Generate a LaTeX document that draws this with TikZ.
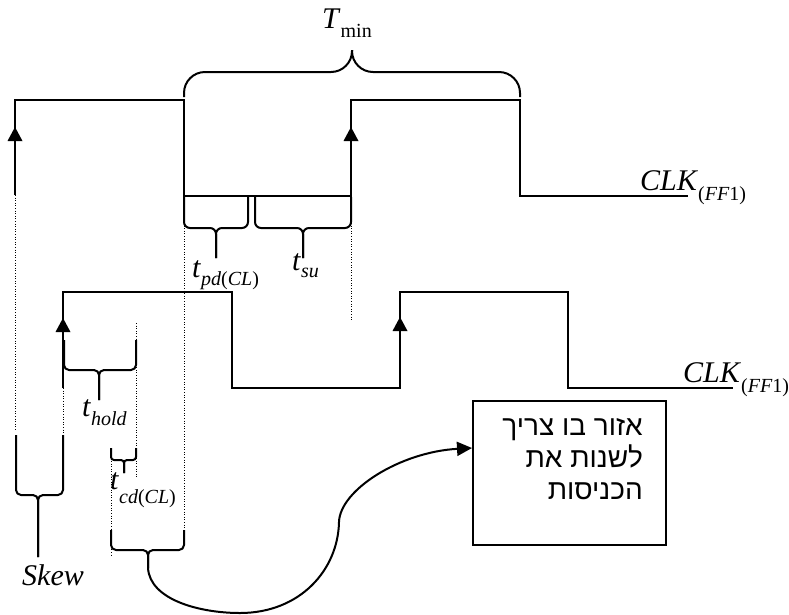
\documentclass[tikz,border=0pt]{standalone}
\usepackage{fontspec}
\setmainfont{Liberation Serif}
\newfontfamily\hebfont[Script=Hebrew]{Liberation Sans}
\TeXXeTstate=1
\usetikzlibrary{arrows.meta}
\newcommand\sbs[2][-8pt]{\raisebox{#1}{\fontsize{20}{24}\selectfont #2}}
% x1,x2,ytop,ymid,xtip,ytip,r
\newcommand\mybrace[7]{%
  \draw[br, rounded corners=#7] (#1,#3) -- (#1,#4) -- (#5,#4) -- (#5,#6);
  \draw[br, rounded corners=#7] (#2,#3) -- (#2,#4) -- (#5,#4) -- (#5,#6);}
\newcommand\uptri[2]{\fill (#1,#2) -- ({#1-7.5},{#2+14}) -- ({#1+7.5},{#2+14}) -- cycle;}
\begin{document}
\begin{tikzpicture}[x=1pt,y=-1pt,
  wave/.style={line width=2pt, line join=miter},
  br/.style={line width=2pt, line join=round},
  dots/.style={line width=1pt, dash pattern=on 1pt off 1.6pt},
  lbl/.style={inner sep=0pt, anchor=base west, font=\fontsize{30}{36}\selectfont},
  heb/.style={inner sep=0pt, anchor=base east, font=\hebfont\fontsize{28}{32}\selectfont}]
\useasboundingbox (0,0) rectangle (789,614);

% waveforms
\draw[wave] (15,195) -- (15,100) -- (184,100) -- (184,196) -- (351,196) -- (351,100)
  -- (520,100) -- (520,196) -- (688,196);
\draw[wave] (63,388) -- (63,292) -- (232,292) -- (232,388) -- (400,388) -- (400,292)
  -- (568,292) -- (568,388) -- (733,388);
\uptri{15}{127}
\uptri{351}{127}
\uptri{63}{318}
\uptri{400}{317}

% dotted guide lines
\draw[dots] (15,195) -- (15,430);
\draw[dots] (184,197) -- (184,530);
\draw[dots] (351,197) -- (351,320);
\draw[dots] (63,388) -- (63,473);
\draw[dots] (136,323) -- (136,477);
\draw[dots] (111,448) -- (111,555);

% braces
\mybrace{184}{520}{97}{72}{352}{50}{21}
\mybrace{184}{248}{197}{228}{216}{258}{6}
\mybrace{255}{351}{197}{228}{303}{258}{6}
\mybrace{64}{136}{340}{370}{99}{400}{5}
\mybrace{111}{136}{448}{460}{124}{473}{3}
\mybrace{16}{63}{435}{495}{38}{557}{5}
\mybrace{111}{184}{530}{550}{148}{568}{5}

% labels
\node[lbl] (tmin) at (322,28) {\textit{T}\sbs[-9pt]{min}};
\node[lbl] (clka) at (640,190) {\textit{CLK}\sbs[-10pt]{(\textit{FF}1)}};
\node[lbl] (clkb) at (683,382) {\textit{CLK}\sbs[-10pt]{(\textit{FF}1)}};
\node[lbl] (tpd) at (192,277) {\textit{t}\sbs[-8pt]{\textit{pd}(\textit{CL})}};
\node[lbl] (tsu) at (292,270) {\textit{t}\sbs[-7pt]{\textit{su}}};
\node[lbl] (thold) at (82,416) {\textit{t}\sbs[-9pt]{\textit{hold}}};
\node[lbl] (tcd) at (110,489) {\textit{t}\sbs[-14pt]{\textit{cd}(\textit{CL})}};
\node[lbl] (skew) at (22,585) {\textit{Skew}};

% box
\node[draw, line width=2pt, minimum width=193pt, minimum height=144pt,
  anchor=north west, inner sep=0pt] (box) at (472,400) {};
\node[heb] (h1) at (643,435) {\beginR אזור בו צריך\endR};
\node[heb] (h2) at (643,467) {\beginR לשנות את\endR};
\node[heb] (h3) at (643,499) {\beginR הכניסות\endR};

% connector
\coordinate (bt) at (148,568);
\coordinate (boxin) at (472,448);
\draw[line width=2pt, -{Triangle[length=15pt,width=14pt]}] (bt)
  .. controls (150,600) and (200,613) .. (240,613)
  .. controls (300,613) and (338,570) .. (339,522)
  .. controls (340,490) and (400,452) .. (boxin);
\end{tikzpicture}
\end{document}
